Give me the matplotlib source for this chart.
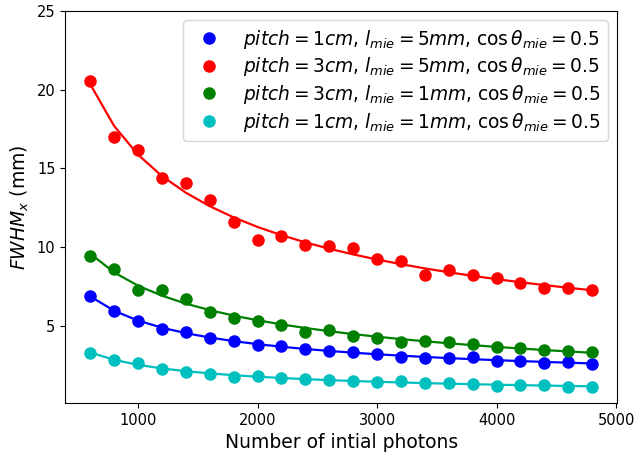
import numpy as np
import matplotlib
matplotlib.use("Agg")
import matplotlib.pyplot as plt

# number of initial photons
photons = np.arange(600, 4801, 200)

# FWHM_x (mm) for each configuration
fwhm_p1_l5 = [6.91, 5.93, 5.32, 4.83, 4.60, 4.24, 4.07, 3.82, 3.75, 3.54, 3.44,
              3.33, 3.20, 3.05, 2.95, 2.95, 3.01, 2.80, 2.76, 2.67, 2.71, 2.61]
fwhm_p3_l5 = [20.57, 17.0, 16.2, 14.4, 14.1, 13.0, 11.6, 10.45, 10.7, 10.17, 10.1,
              9.98, 9.22, 9.13, 8.24, 8.58, 8.22, 8.05, 7.73, 7.42, 7.42, 7.31]
fwhm_p3_l1 = [9.43, 8.60, 7.29, 7.29, 6.74, 5.89, 5.53, 5.30, 5.09, 4.64, 4.73,
              4.35, 4.26, 4.00, 4.03, 4.00, 3.86, 3.69, 3.63, 3.48, 3.41, 3.35]
fwhm_p1_l1 = [3.31, 2.84, 2.63, 2.27, 2.08, 1.96, 1.78, 1.80, 1.72, 1.64, 1.55,
              1.51, 1.47, 1.49, 1.40, 1.40, 1.30, 1.21, 1.23, 1.25, 1.12, 1.15]

labels = [
    r"$pitch=1cm$, $l_{mie}=5mm$, $\cos\theta_{mie}=0.5$",
    r"$pitch=3cm$, $l_{mie}=5mm$, $\cos\theta_{mie}=0.5$",
    r"$pitch=3cm$, $l_{mie}=1mm$, $\cos\theta_{mie}=0.5$",
    r"$pitch=1cm$, $l_{mie}=1mm$, $\cos\theta_{mie}=0.5$",
]
colors = ["b", "r", "g", "c"]
series = [fwhm_p1_l5, fwhm_p3_l5, fwhm_p3_l1, fwhm_p1_l1]


def fit_power(x, y):
    # least squares for y = a * x^b + c, scanning the exponent
    best = None
    for b in np.linspace(-3, -0.05, 600):
        A = np.column_stack([x ** b, np.ones_like(x)])
        coef, *_ = np.linalg.lstsq(A, y, rcond=None)
        res = np.sum((A @ coef - y) ** 2)
        if best is None or res < best[0]:
            best = (res, b, coef)
    _, b, (a, c) = best
    return a * x ** b + c


fig, ax = plt.subplots(figsize=(6.39, 4.55), dpi=100)
fig.subplots_adjust(left=0.102, right=0.966, top=0.976, bottom=0.114)

for y, c, lab in zip(series, colors, labels):
    y = np.array(y)
    ax.plot(photons, y, "o", color=c, markersize=8, label=lab)
    ax.plot(photons, fit_power(photons.astype(float), y), "-", color=c, lw=1.6)

ax.set_ylim(0.1, 25)
ax.set_xlabel("Number of intial photons", fontsize=13.5)
ax.set_ylabel(r"$FWHM_x$ (mm)", fontsize=13.5)
ax.tick_params(labelsize=10.5)
ax.legend(loc="upper right", fontsize=13.4, labelspacing=0.25)

fig.savefig("out.png", dpi=100)
